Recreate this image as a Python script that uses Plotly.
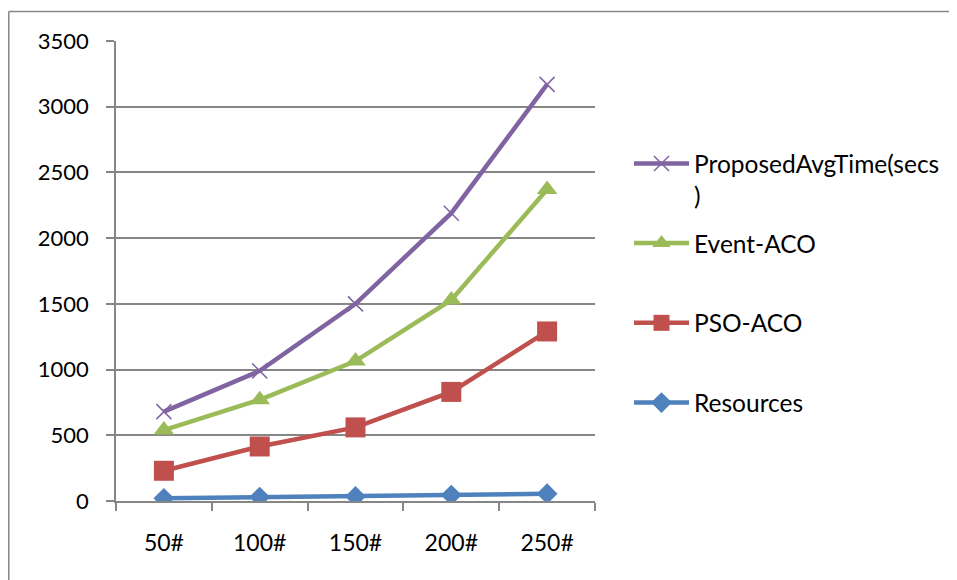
import plotly.graph_objects as go

categories = ["50#", "100#", "150#", "200#", "250#"]
resources = [20, 30, 35, 45, 55]
pso_aco = [230, 415, 560, 830, 1290]
event_aco = [540, 770, 1065, 1530, 2370]
proposed = [680, 990, 1500, 2190, 3170]

names = ["Resources<br>\u00a0", "PSO-ACO<br>\u00a0", "Event-ACO<br>\u00a0", "ProposedAvgTime(secs<br>)"]
colors = ["#4F81BD", "#C0504D", "#9BBB59", "#8064A2"]
symbols = ["diamond", "square", "triangle-up", "x-thin"]
sizes = [16, 20, 18, 15]
series = [resources, pso_aco, event_aco, proposed]

FONT = "Lato"
fig = go.Figure()
for i, (nm, col, sym, sz, vals) in enumerate(zip(names, colors, symbols, sizes, series)):
    marker = dict(symbol=sym, size=sz, color=col)
    if sym == "x-thin":
        marker["line"] = dict(color=col, width=1.5)
    fig.add_trace(go.Scatter(
        x=categories, y=vals, name=nm, mode="lines+markers",
        line=dict(color=col, width=4.5), marker=marker,
        legendgroup=str(i), legendrank=10 - i,
    ))

# page body has an 8px margin: work in screenshot pixels, convert to figure pixels
OFF = 8
W, H = 957 - OFF, 580 - OFF
L, T = 116 - OFF, 41 - OFF
pw, ph = 595 - 116, 501 - 41
R, B = W - L - pw, H - T - ph

def px_x(x):
    return (x - OFF - L) / pw

def px_y(y):
    return 1 - (y - OFF - T) / ph

border = dict(color="#868686", width=1.5)
fig.add_shape(type="line", xref="paper", yref="paper",
              x0=px_x(8.8), x1=px_x(1000), y0=px_y(11.5), y1=px_y(11.5), line=border, layer="below")
fig.add_shape(type="line", xref="paper", yref="paper",
              x0=px_x(8.8), x1=px_x(8.8), y0=px_y(11.5), y1=px_y(620), line=border, layer="below")

fig.update_layout(
    width=W, height=H,
    margin=dict(l=L, r=R, t=T, b=B),
    paper_bgcolor="white", plot_bgcolor="white",
    font=dict(family=FONT, size=22, color="black"),
    showlegend=True,
    legend=dict(
        x=px_x(629), y=px_y(141), xanchor="left", yanchor="top",
        traceorder="grouped", tracegroupgap=13, valign="top",
        itemwidth=55, font=dict(family=FONT, size=24.5, color="black"),
        bgcolor="rgba(0,0,0,0)",
    ),
    xaxis=dict(
        type="category", range=[-0.5, 4.5],
        showline=True, linecolor="#868686", linewidth=1.5,
        ticks="outside", ticklen=8, tickcolor="#868686", tickwidth=1.5,
        tickson="boundaries", showgrid=False, zeroline=False,
        ticklabelstandoff=21, tickfont=dict(family=FONT, size=23),
    ),
    yaxis=dict(
        range=[0, 3500], dtick=500, tick0=0,
        showline=True, linecolor="#868686", linewidth=1.5,
        ticks="outside", ticklen=8, tickcolor="#868686", tickwidth=1.5,
        showgrid=True, gridcolor="#868686", gridwidth=1.5, zeroline=False,
        ticklabelstandoff=13, tickfont=dict(family=FONT, size=22),
    ),
)

fig.write_html("out.html")
